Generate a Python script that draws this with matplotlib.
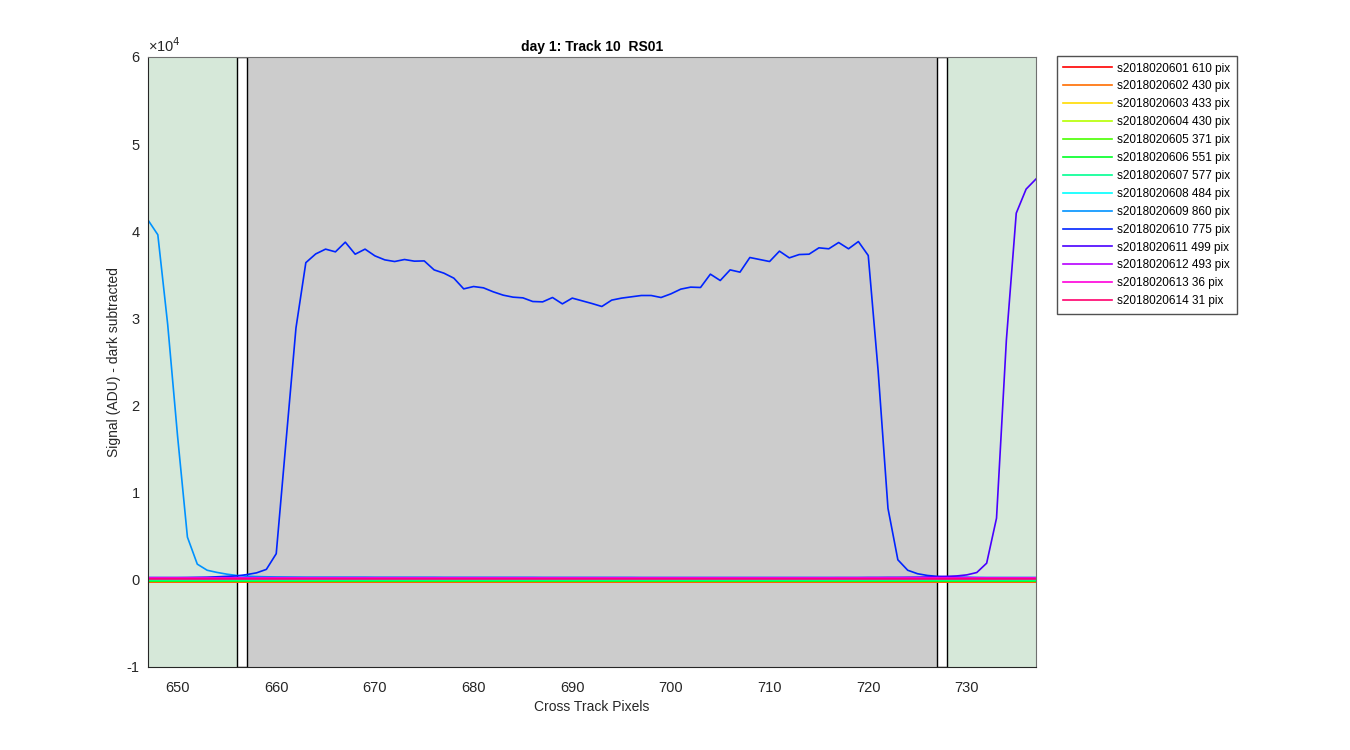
import colorsys

import matplotlib
matplotlib.use("Agg")
import matplotlib.pyplot as plt
import numpy as np

plt.rcParams["font.family"] = ["Liberation Sans", "DejaVu Sans"]

# cross-track pixel axis
pixels = np.arange(647, 738)

scan_ids = ["s2018020601", "s2018020602", "s2018020603", "s2018020604", "s2018020605",
            "s2018020606", "s2018020607", "s2018020608", "s2018020609", "s2018020610",
            "s2018020611", "s2018020612", "s2018020613", "s2018020614"]
pix_counts = [610, 430, 433, 430, 371, 551, 577, 484, 860, 775, 499, 493, 36, 31]

# flat scans sit near zero; level (None = full profile below)
baseline_levels = [-250, -200, -150, -170, -120, -80, 0, 50, None, None, None, 250, 200, 120]

# s2018020609: bright edge on the left
sig_609 = [41300, 39600, 29300, 16500, 4900, 1800, 1100, 850, 650, 500,
           420, 380, 350, 330, 320, 310, 300, 300, 300, 300,
           300, 300, 300, 290, 290, 290, 290, 290, 290, 290,
           280, 280, 280, 280, 280, 280, 280, 280, 280, 280,
           270, 270, 270, 270, 270, 270, 270, 270, 270, 270,
           260, 260, 260, 260, 260, 260, 260, 260, 260, 260,
           260, 260, 260, 260, 260, 260, 260, 260, 260, 260,
           250, 250, 250, 250, 250, 250, 250, 250, 250, 250,
           250, 250, 250, 250, 250, 250, 250, 250, 250, 250, 250]

# s2018020610: the illuminated track
sig_610 = [250, 250, 250, 250, 260, 280, 300, 350, 400, 450,
           600, 800, 1200, 3000, 16000, 28900, 36400, 37400, 37950, 37640,
           38750, 37370, 37950, 37180, 36720, 36530, 36760, 36570, 36600, 35570,
           35190, 34620, 33390, 33660, 33510, 33050, 32670, 32440, 32360, 31940,
           31900, 32400, 31670, 32330, 32020, 31710, 31370, 32100, 32330, 32480,
           32630, 32630, 32400, 32820, 33360, 33590, 33550, 35080, 34350, 35570,
           35310, 36990, 36760, 36530, 37720, 36950, 37330, 37370, 38100, 37990,
           38710, 37990, 38820, 37220, 24000, 8200, 2300, 1100, 700, 500,
           400, 350, 300, 280, 260, 250, 250, 250, 250, 250, 250]

# s2018020611: bright edge on the right
sig_611 = [250, 250, 250, 250, 250, 250, 250, 250, 250, 250,
           250, 250, 250, 250, 250, 250, 250, 250, 250, 250,
           250, 250, 250, 250, 250, 250, 250, 250, 250, 250,
           250, 250, 250, 250, 250, 250, 250, 250, 250, 250,
           250, 250, 250, 250, 250, 250, 250, 250, 250, 250,
           250, 250, 250, 250, 250, 250, 250, 250, 250, 250,
           250, 250, 250, 250, 250, 250, 250, 250, 250, 250,
           260, 260, 260, 270, 270, 280, 280, 290, 300, 320,
           350, 400, 450, 570, 840, 1910, 7080, 27540, 42080, 44840, 46000]

profiles = {8: sig_609, 9: sig_610, 10: sig_611}

# regions (pixel edges)
outer_left = (647, 656)
gap_left = (656, 657)
track = (657, 727)
gap_right = (727, 728)
outer_right = (728, 737)

fig = plt.figure(figsize=(13.5, 7.5), dpi=100)
ax = fig.add_axes([0.1096, 0.1107, 0.6578, 0.8133])

green = "#d6e8d9"
ax.axvspan(*outer_left, facecolor=green, edgecolor="none", zorder=0)
ax.axvspan(*outer_right, facecolor=green, edgecolor="none", zorder=0)
ax.axvspan(*track, facecolor="#cccccc", edgecolor="none", zorder=0)
for span in (gap_left, gap_right):
    ax.axvspan(*span, facecolor="white", edgecolor="black", lw=1.0, zorder=0.5)

for i, (sid, npix) in enumerate(zip(scan_ids, pix_counts)):
    color = colorsys.hsv_to_rgb(i / len(scan_ids), 1.0, 1.0)
    if i in profiles:
        y = np.array(profiles[i], dtype=float)
    else:
        y = np.full(len(pixels), baseline_levels[i], dtype=float)
    ax.plot(pixels, y, color=color, lw=1.2, label=f"{sid} {npix} pix", zorder=2)

ax.set_xlim(647, 737)
ax.set_ylim(-10000, 60000)
ax.set_xticks(np.arange(650, 731, 10))
ax.set_yticks(np.arange(-10000, 60001, 10000))
ax.set_yticklabels([str(v) for v in range(-1, 7)])
ax.tick_params(direction="in", labelsize=10.5, colors="#262626", length=0)
ax.tick_params(axis="x", pad=10)
ax.tick_params(axis="y", pad=6)
for s in ax.spines.values():
    s.set_color("#262626")
ax.spines["top"].set_color("#707070")
ax.spines["right"].set_color("#707070")
ax.text(0, 1.004, "×10$^4$", transform=ax.transAxes, fontsize=10.5, color="#262626",
        ha="left", va="bottom")

ax.set_title("day 1: Track 10  RS01", fontsize=10, fontweight="bold", pad=4)
ax.set_xlabel("Cross Track Pixels", fontsize=10, color="#262626")
ax.set_ylabel("Signal (ADU) - dark subtracted", fontsize=10, color="#262626")

leg = ax.legend(loc="upper left", bbox_to_anchor=(1.0236, 1.0016), borderaxespad=0,
                fontsize=8.5, frameon=True, fancybox=False, edgecolor="#262626",
                handlelength=4.15, labelspacing=0.50, borderpad=0.55, handletextpad=0.42)
leg.get_frame().set_linewidth(1.0)

fig.savefig("out.png", dpi=100)
